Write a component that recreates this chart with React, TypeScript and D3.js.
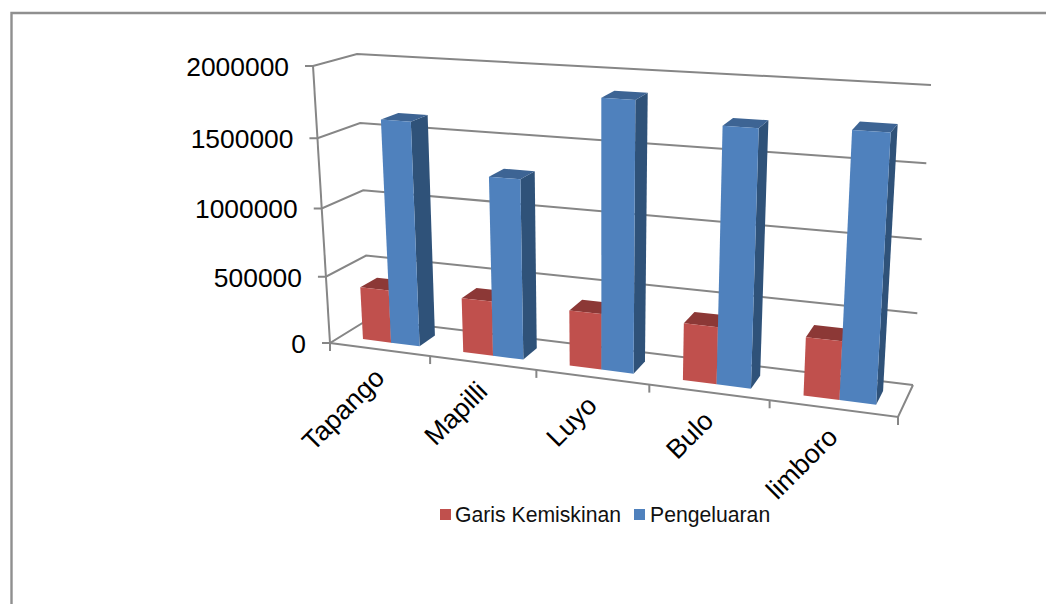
import React from "react";
import * as d3 from "d3";

// Chart values
const categories = ["Tapango", "Mapilli", "Luyo", "Bulo", "limboro"];
const seriesNames = ["Garis Kemiskinan", "Pengeluaran"];
const garisKemiskinan = [395000, 400000, 400000, 402000, 402000];
const pengeluaran = [1630000, 1290000, 1880000, 1750000, 1780000];
const valueTicks = [0, 500000, 1000000, 1500000, 2000000];

const W = 1046;
const H = 604;
const FONT = "'Liberation Sans', Arial, sans-serif";
const AXIS = "#868686";

const palette = [
  { front: "#C0504D", top: "#8C3836", side: "#8C3836" },
  { front: "#4F81BD", top: "#3D6494", side: "#2F5279" },
];

// Box corners of the plot on screen, indexed by [u][d][v]
const corners = [
  [
    [[330, 343], [313, 66]],
    [[369, 319], [357, 54]],
  ],
  [
    [[898, 417], [916, 104]],
    [[913, 385], [931, 85]],
  ],
];

// Perspective weighting along width and height of the box
const weight = (u: number, v: number) => (u ? 0.856 : 1) * (v ? 0.945 : 1);

// Projects box coordinates (each 0..1) with homogeneous trilinear interpolation
function project(u: number, d: number, v: number): [number, number] {
  let x = 0, y = 0, w = 0;
  for (const i of [0, 1]) for (const j of [0, 1]) for (const k of [0, 1]) {
    const t =
      (i ? u : 1 - u) * (j ? d : 1 - d) * (k ? v : 1 - v) * weight(i, k);
    x += t * corners[i][j][k][0];
    y += t * corners[i][j][k][1];
    w += t;
  }
  return [x / w, y / w];
}

const uScale = d3.scaleBand<string>().domain(categories).range([0, 1]);
const seriesScale = d3
  .scaleBand<string>()
  .domain(seriesNames)
  .range([0.228, 0.8]);
const vScale = d3.scaleLinear().domain([0, 2000000]).range([0, 1]);
const DEPTH: [number, number] = [0.28, 0.71];

const line = d3.line();
const poly = (pts: [number, number][]) => line(pts)! + "Z";

function Bar({ cat, s, value }: { cat: string; s: number; value: number }) {
  const band = uScale.bandwidth();
  const u0 = uScale(cat)! + band * seriesScale(seriesNames[s])!;
  const u1 = u0 + band * seriesScale.bandwidth();
  const [d0, d1] = DEPTH;
  const v = vScale(value);
  const c = palette[s];
  return (
    <g>
      <path d={poly([project(u1, d0, 0), project(u1, d1, 0), project(u1, d1, v), project(u1, d0, v)])} fill={c.side} />
      <path d={poly([project(u0, d0, v), project(u1, d0, v), project(u1, d1, v), project(u0, d1, v)])} fill={c.top} />
      <path d={poly([project(u0, d0, 0), project(u1, d0, 0), project(u1, d0, v), project(u0, d0, v)])} fill={c.front} />
    </g>
  );
}

export default function App() {
  const stroke = { stroke: AXIS, strokeWidth: 2, fill: "none" };
  const uTicks = [0, ...categories.map((c) => uScale(c)! + uScale.bandwidth())];
  return (
    <svg
      width={W}
      height={H}
      viewBox={`0 0 ${W} ${H}`}
      style={{ position: "absolute", left: 0, top: 0, background: "#fff" }}
      fontFamily={FONT}
    >
      {/* Outer frame: only the top and left edges are in view */}
      <path d={`M${W},13H11.5V${H}`} stroke="#8f8f8f" strokeWidth={2.4} fill="none" />

      {/* Side wall and back wall gridlines */}
      {valueTicks.map((t) => {
        const v = vScale(t);
        const a = project(0, 0, v);
        return (
          <g key={t}>
            <path d={line([[a[0] - 8, a[1]], a, project(0, 1, v), project(1, 1, v)])!} {...stroke} />
            <text x={a[0] - 24} y={a[1]} dy="0.38em" textAnchor="end" fontSize={26.4} fill="#000">
              {t}
            </text>
          </g>
        );
      })}

      {/* Vertical axis, floor edges and category ticks */}
      <path d={line([project(0, 0, 1), project(0, 0, 0)])!} {...stroke} />
      <path d={line([project(0, 0, 0), project(1, 0, 0), project(1, 1, 0)])!} {...stroke} />
      {uTicks.map((u) => {
        const p = project(u, 0, 0);
        return <path key={u} d={line([p, [p[0], p[1] + 8]])!} {...stroke} />;
      })}

      {categories.map((c, i) => (
        <g key={c}>
          <Bar cat={c} s={0} value={garisKemiskinan[i]} />
          <Bar cat={c} s={1} value={pengeluaran[i]} />
        </g>
      ))}

      {/* Category labels */}
      {categories.map((c) => {
        const p = project(uScale(c)! + uScale.bandwidth() / 2, 0, 0);
        return (
          <text
            key={c}
            transform={`translate(${p[0]},${p[1] + 23.5}) rotate(-45)`}
            textAnchor="end"
            dy="0.35em"
            fontSize={26.8}
            fill="#000"
          >
            {c}
          </text>
        );
      })}

      {/* Legend */}
      <rect x={440} y={509} width={11} height={11} fill={palette[0].front} />
      <text x={455} y={521.5} fontSize={21.2} fill="#111">{seriesNames[0]}</text>
      <rect x={634} y={509} width={11} height={11} fill={palette[1].front} />
      <text x={650} y={521.5} fontSize={21.2} fill="#111">{seriesNames[1]}</text>
    </svg>
  );
}
